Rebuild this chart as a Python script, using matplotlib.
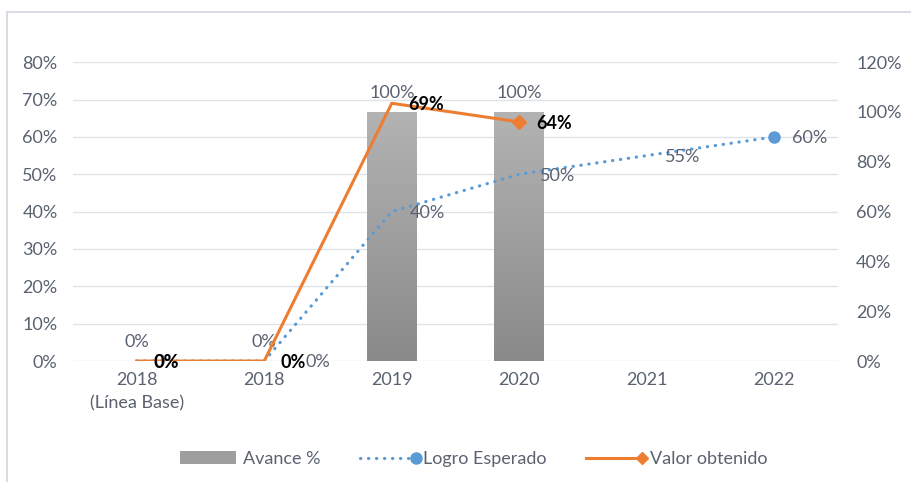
import matplotlib
matplotlib.use("Agg")
import matplotlib.pyplot as plt
import numpy as np
from matplotlib.lines import Line2D
from matplotlib.patches import Rectangle, Patch
from matplotlib.legend_handler import HandlerLine2D
from matplotlib.colors import LinearSegmentedColormap

plt.rcParams['font.family'] = ['Lato', 'DejaVu Sans']

categories = ["2018\n(Línea Base)", "2018", "2019", "2020", "2021", "2022"]
avance = [0, 0, 100, 100]            # right axis, %
logro_esperado = [0, 0, 40, 50, 55, 60]   # left axis, %
valor_obtenido = [0, 0, 69, 64]           # left axis, %
left_ticks = [0, 10, 20, 30, 40, 50, 60, 70, 80]
right_ticks = [0, 20, 40, 60, 80, 100, 120]

TXT = "#5a6270"
GRID = "#dfe3e8"
BLUE = "#5B9BD5"
ORANGE = "#ED7D31"
FS = 13

fig = plt.figure(figsize=(9.12, 4.82), dpi=100)
ax = fig.add_axes([0.080, 0.251, 0.839, 0.620])
ax2 = ax.twinx()

x = np.arange(len(categories))
ax.set_xlim(-0.5, len(categories) - 0.5)
ax.set_ylim(0, 80)
ax2.set_ylim(0, 120)
ax.set_yticks(left_ticks)
ax.set_yticklabels([f"{v}%" for v in left_ticks])
ax2.set_yticks(right_ticks)
ax2.set_yticklabels([f"{v}%" for v in right_ticks])
ax.set_xticks(x)
ax.set_xticklabels(categories, linespacing=1.55)

for a in (ax, ax2):
    for s in a.spines.values():
        s.set_visible(False)
    a.tick_params(length=0, labelsize=FS, colors=TXT)
ax.tick_params(axis='y', pad=11)
ax2.tick_params(axis='y', pad=13)
ax.tick_params(axis='x', pad=8)

# layering: bars (ax2) below lines (ax)
ax2.set_zorder(0)
ax.set_zorder(1)
ax.patch.set_visible(False)
ax2.set_xlim(-0.5, len(categories) - 0.5)

# gridlines (left-axis ticks) drawn behind the bars
for v in left_ticks:
    ax2.axhline(v * 120 / 80, color=GRID, lw=1, zorder=0)

bx = x[:len(avance)]
bars = ax2.bar(bx, avance, width=0.39, color="#9e9e9e", zorder=2)
grad = np.linspace(0, 1, 256).reshape(-1, 1)
cmap = LinearSegmentedColormap.from_list("g", ["#8a8a8a", "#b3b3b3"])
for b in bars:
    h = b.get_height()
    if h <= 0:
        continue
    x0 = b.get_x(); w = b.get_width()
    im = ax2.imshow(grad, extent=(x0, x0 + w, 0, h), origin='lower',
                    aspect='auto', cmap=cmap, zorder=3)
    im.set_clip_path(b)
ax2.set_xlim(-0.5, len(categories) - 0.5)
ax2.set_ylim(0, 120)
for xi, v in zip(bx, avance):
    ax2.annotate(f"{v}%", (xi, v), xytext=(0, 14), textcoords='offset points',
                 ha='center', va='center', fontsize=FS, color=TXT)

# lines
ax.plot(x[:len(logro_esperado)], logro_esperado, color=BLUE, lw=2.3,
        linestyle=(0, (0.1, 2.4)), dash_capstyle='round',
        marker='o', markevery=[len(logro_esperado) - 1], markersize=8, zorder=4)
ax.plot(x[:len(valor_obtenido)], valor_obtenido, color=ORANGE, lw=2.2,
        marker='D', markevery=[len(valor_obtenido) - 1], markersize=7, zorder=5)

blue_off = [13, 30, 13, 15, 13, 13]
for i, v in enumerate(logro_esperado):
    ax.annotate(f"{v}%", (x[i], v), xytext=(blue_off[i], -1), textcoords='offset points',
                ha='left', va='center', fontsize=FS, color=TXT, zorder=6)
for i, v in enumerate(valor_obtenido):
    ax.annotate(f"{v}%", (x[i], v), xytext=(12, -1), textcoords='offset points',
                ha='left', va='center', fontsize=FS, color='black',
                fontweight='bold', zorder=7)


class EndMarkerHandler(HandlerLine2D):
    def create_artists(self, legend, orig_handle, xdescent, ydescent,
                       width, height, fontsize, trans):
        y = height / 2 - ydescent
        line = Line2D([-xdescent, -xdescent + width], [y, y])
        self.update_prop(line, orig_handle, legend)
        line.set_marker('None')
        line.set_transform(trans)
        mk = Line2D([-xdescent + width], [y], linestyle='None',
                    marker=orig_handle.get_marker(),
                    markersize=orig_handle.get_markersize(),
                    color=orig_handle.get_color())
        mk.set_transform(trans)
        return [line, mk]


h_bar = Patch(facecolor="#9e9e9e", edgecolor='none')
h_blue = Line2D([], [], color=BLUE, lw=2.3, linestyle=(0, (0.1, 2.4)),
                dash_capstyle='round', marker='o', markersize=8)
h_or = Line2D([], [], color=ORANGE, lw=2.2, marker='D', markersize=6)
leg = fig.legend([h_bar, h_blue, h_or], ["Avance %", "Logro Esperado", "Valor obtenido"],
                 loc='center', bbox_to_anchor=(0.519, 0.048), ncol=3, frameon=False,
                 fontsize=FS, handlelength=3.1, handletextpad=0.4, columnspacing=2.2,
                 handler_map={h_blue: EndMarkerHandler(), h_or: EndMarkerHandler()})
for t in leg.get_texts():
    t.set_color(TXT)

# outer frame
fig.patches.append(Rectangle((7 / 912, -0.1), 1.2, 1 - 12 / 482 + 0.1,
                             transform=fig.transFigure, fill=False,
                             edgecolor="#d9dde3", lw=1.5))

fig.savefig("out.png", dpi=100)
